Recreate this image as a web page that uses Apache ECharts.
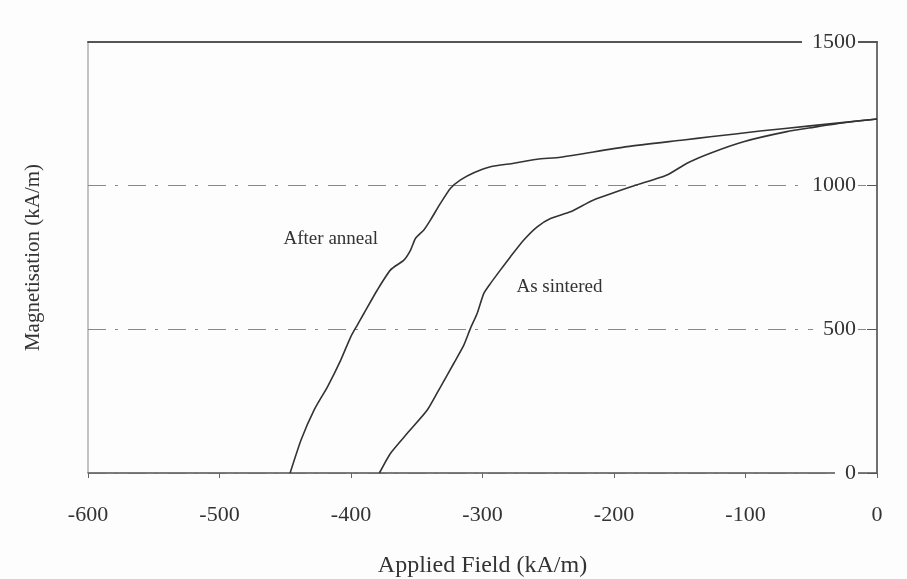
<!DOCTYPE html>
<html>
<head>
<meta charset="utf-8">
<script src="https://cdn.jsdelivr.net/npm/echarts@6/dist/echarts.min.js"></script>
<style>html,body{margin:0;padding:0;background:#fdfdfd}#c{width:907px;height:579px}</style>
</head>
<body>
<div id="c"></div>
<script>
var xTicks = [-600, -500, -400, -300, -200, -100, 0];
var yTicks = [0, 500, 1000, 1500];

var annealField = [-446.3,-438.0,-428.1,-417.9,-407.8,-400.2,-395.2,-390.1,-380.0,-369.9,-359.8,-354.7,-350.9,-344.6,-339.5,-331.9,-324.3,-316.7,-306.6,-293.9,-276.2,-258.4,-240.7,-190.1,-147.1,-126.8,-88.9,-50.9,0];
var annealMag   = [0,115,219,300,393,474,515,556,637,707,741,776,817,846,881,939,991,1020,1045,1066,1078,1092,1099,1136,1159,1170,1190,1208,1232];

var sinterField = [-378.4,-369.9,-357.2,-342.0,-331.9,-321.8,-314.2,-309.1,-304.0,-299.0,-293.9,-286.3,-278.7,-268.6,-258.4,-248.3,-233.2,-215.5,-185.1,-159.7,-144.5,-126.8,-101.5,-68.6,-48.4,-25.6,0];
var sinterMag   = [0,69,138,219,300,382,445,504,556,625,660,707,753,811,857,886,909,950,999,1037,1078,1113,1153,1188,1203,1219,1232];

var annotText  = ['After anneal', 'As sintered'];
var annotField = [-415.4, -241.5];
var annotMag   = [814, 647];

function pairs(xs, ys){ return xs.map(function(x,i){ return [x, ys[i]]; }); }

var font = '"Liberation Serif","Times New Roman",serif';
var chart = echarts.init(document.getElementById('c'));
chart.setOption({
  backgroundColor: '#fdfdfd',
  animation: false,
  grid: { left: 88, right: 30, top: 42, bottom: 106, containLabel: false, outerBoundsMode: 'none',
    show: true, borderColor: '#888', borderWidth: 1, backgroundColor: 'transparent' },
  xAxis: [{
    type: 'value', min: xTicks[0], max: xTicks[xTicks.length-1], interval: 100,
    name: 'Applied Field (kA/m)', nameLocation: 'middle', nameGap: 81,
    nameTextStyle: { fontFamily: font, fontSize: 24, color: '#333' },
    axisLine: { show: true, onZero: false, lineStyle: { color: '#666', width: 1.5 } },
    axisTick: { show: true, inside: false, length: 5, lineStyle: { color: '#666' } },
    axisLabel: { fontFamily: font, fontSize: 22, color: '#333', margin: 31,
      formatter: function(v){ return String(v); } },
    splitLine: { show: false }
  }, {
    type: 'value', position: 'top', min: xTicks[0], max: xTicks[xTicks.length-1],
    axisLine: { show: true, onZero: false, lineStyle: { color: '#555', width: 2 } },
    axisTick: { show: false }, axisLabel: { show: false }, splitLine: { show: false }
  }],
  yAxis: [{
    type: 'value', position: 'right', min: yTicks[0], max: yTicks[yTicks.length-1], interval: 500,
    axisLine: { show: true, lineStyle: { color: '#555', width: 1.5 } },
    axisTick: { show: true, inside: true, length: 10, lineStyle: { color: '#555' } },
    axisLabel: { inside: true, margin: 19, fontFamily: font, fontSize: 22, color: '#333',
      backgroundColor: '#fdfdfd', padding: [0, 2, 0, 10],
      formatter: function(v){ return String(v); } },
    splitLine: { show: true, lineStyle: { color: '#888', width: 1, type: [18, 9, 3, 10] } }
  }, {
    type: 'value', position: 'left', min: 0, max: 1500,
    name: 'Magnetisation (kA/m)', nameLocation: 'middle', nameGap: 44,
    nameTextStyle: { fontFamily: font, fontSize: 21, color: '#333' },
    axisLine: { show: false }, axisTick: { show: false }, axisLabel: { show: false }, splitLine: { show: false }
  }],
  series: [{
    name: 'After anneal', type: 'line', data: pairs(annealField, annealMag),
    showSymbol: false, smooth: 0.2, lineStyle: { color: '#333', width: 1.6 },
    markPoint: { symbol: 'circle', symbolSize: 0, data: [{ coord: [annotField[0], annotMag[0]], value: annotText[0] }],
      label: { show: true, formatter: annotText[0], fontFamily: font, fontSize: 19, color: '#333' } }
  }, {
    name: 'As sintered', type: 'line', data: pairs(sinterField, sinterMag),
    showSymbol: false, smooth: 0.2, lineStyle: { color: '#333', width: 1.6 },
    markPoint: { symbol: 'circle', symbolSize: 0, data: [{ coord: [annotField[1], annotMag[1]], value: annotText[1] }],
      label: { show: true, formatter: annotText[1], fontFamily: font, fontSize: 19, color: '#333' } }
  }]
});
</script>
</body>
</html>
